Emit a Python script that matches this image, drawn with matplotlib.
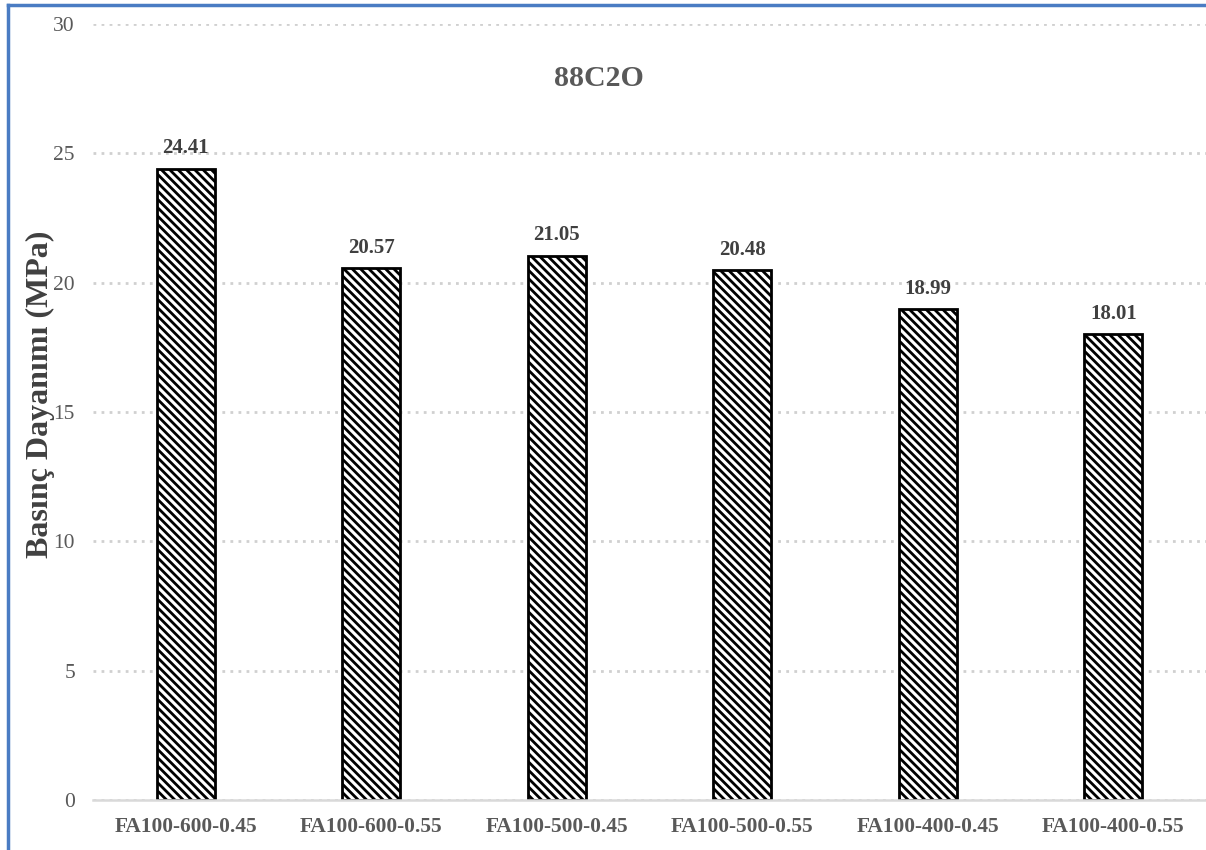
import matplotlib
matplotlib.use("Agg")
import matplotlib.pyplot as plt
from matplotlib.lines import Line2D

categories = ["FA100-600-0.45", "FA100-600-0.55", "FA100-500-0.45",
              "FA100-500-0.55", "FA100-400-0.45", "FA100-400-0.55"]
values = [24.41, 20.57, 21.05, 20.48, 18.99, 18.01]
value_labels = ["24.41", "20.57", "21.05", "20.48", "18.99", "18.01"]
yticks = [0, 5, 10, 15, 20, 25, 30]
title = "88C2O"
ylabel = "Basınç Dayanımı (MPa)"

plt.rcParams['font.family'] = ['Liberation Serif', 'DejaVu Serif']
plt.rcParams['hatch.linewidth'] = 2.0
plt.rcParams['hatch.color'] = 'black'

W, H = 1206, 850
fig = plt.figure(figsize=(W / 100, H / 100), dpi=100)
fig.patch.set_facecolor('white')
ax = fig.add_axes([93 / W, 1 - 800 / H, (W - 93) / W, (800 - 24) / H])

x = list(range(len(categories)))
bars = ax.bar(x, values, width=0.3125, color='white', edgecolor='black',
              linewidth=2.0, hatch='\\\\\\\\', zorder=3)

for xi, v, lab in zip(x, values, value_labels):
    ax.annotate(lab, (xi, v), xytext=(0, 11), textcoords='offset points',
                ha='center', va='baseline', fontsize=15, fontweight='bold',
                color='#404040')

ax.set_xlim(-0.5, len(categories) - 0.5)
ax.set_ylim(0, 30)
ax.set_yticks(yticks)
ax.set_yticklabels([str(t) for t in yticks], fontsize=15.5, color='#595959')
ax.set_xticks(x)
ax.set_xticklabels(categories, fontsize=15.4, fontweight='bold', color='#595959')
ax.tick_params(axis='both', length=0)
ax.tick_params(axis='y', pad=13)
ax.tick_params(axis='x', pad=12)

for s in ['top', 'right', 'left']:
    ax.spines[s].set_visible(False)
ax.spines['bottom'].set_color('#d9d9d9')
ax.spines['bottom'].set_linewidth(1.8)
ax.spines['bottom'].set_zorder(4)

ax.yaxis.grid(True, color='#d0d0d0', linewidth=2.0, linestyle=(0, (1.0, 1.9)), zorder=0)
ax.set_axisbelow(True)

fig.text(599 / W, 1 - 78 / H, title, ha='center', va='center', fontsize=21.5,
         fontweight='bold', color='#595959')
fig.text(40 / W, 1 - 394 / H, ylabel, ha='center', va='center', rotation=90,
         fontsize=23, fontweight='bold', color='#404040')

# blue frame border (left and top)
fig.add_artist(Line2D([8 / W, 8 / W], [0, 1 - 5 / H], transform=fig.transFigure,
                      color='#4a7cc3', linewidth=2.5))
fig.add_artist(Line2D([8 / W, 1], [1 - 5 / H, 1 - 5 / H], transform=fig.transFigure,
                      color='#4a7cc3', linewidth=2.5))

fig.savefig('out.png', dpi=100, facecolor='white')
